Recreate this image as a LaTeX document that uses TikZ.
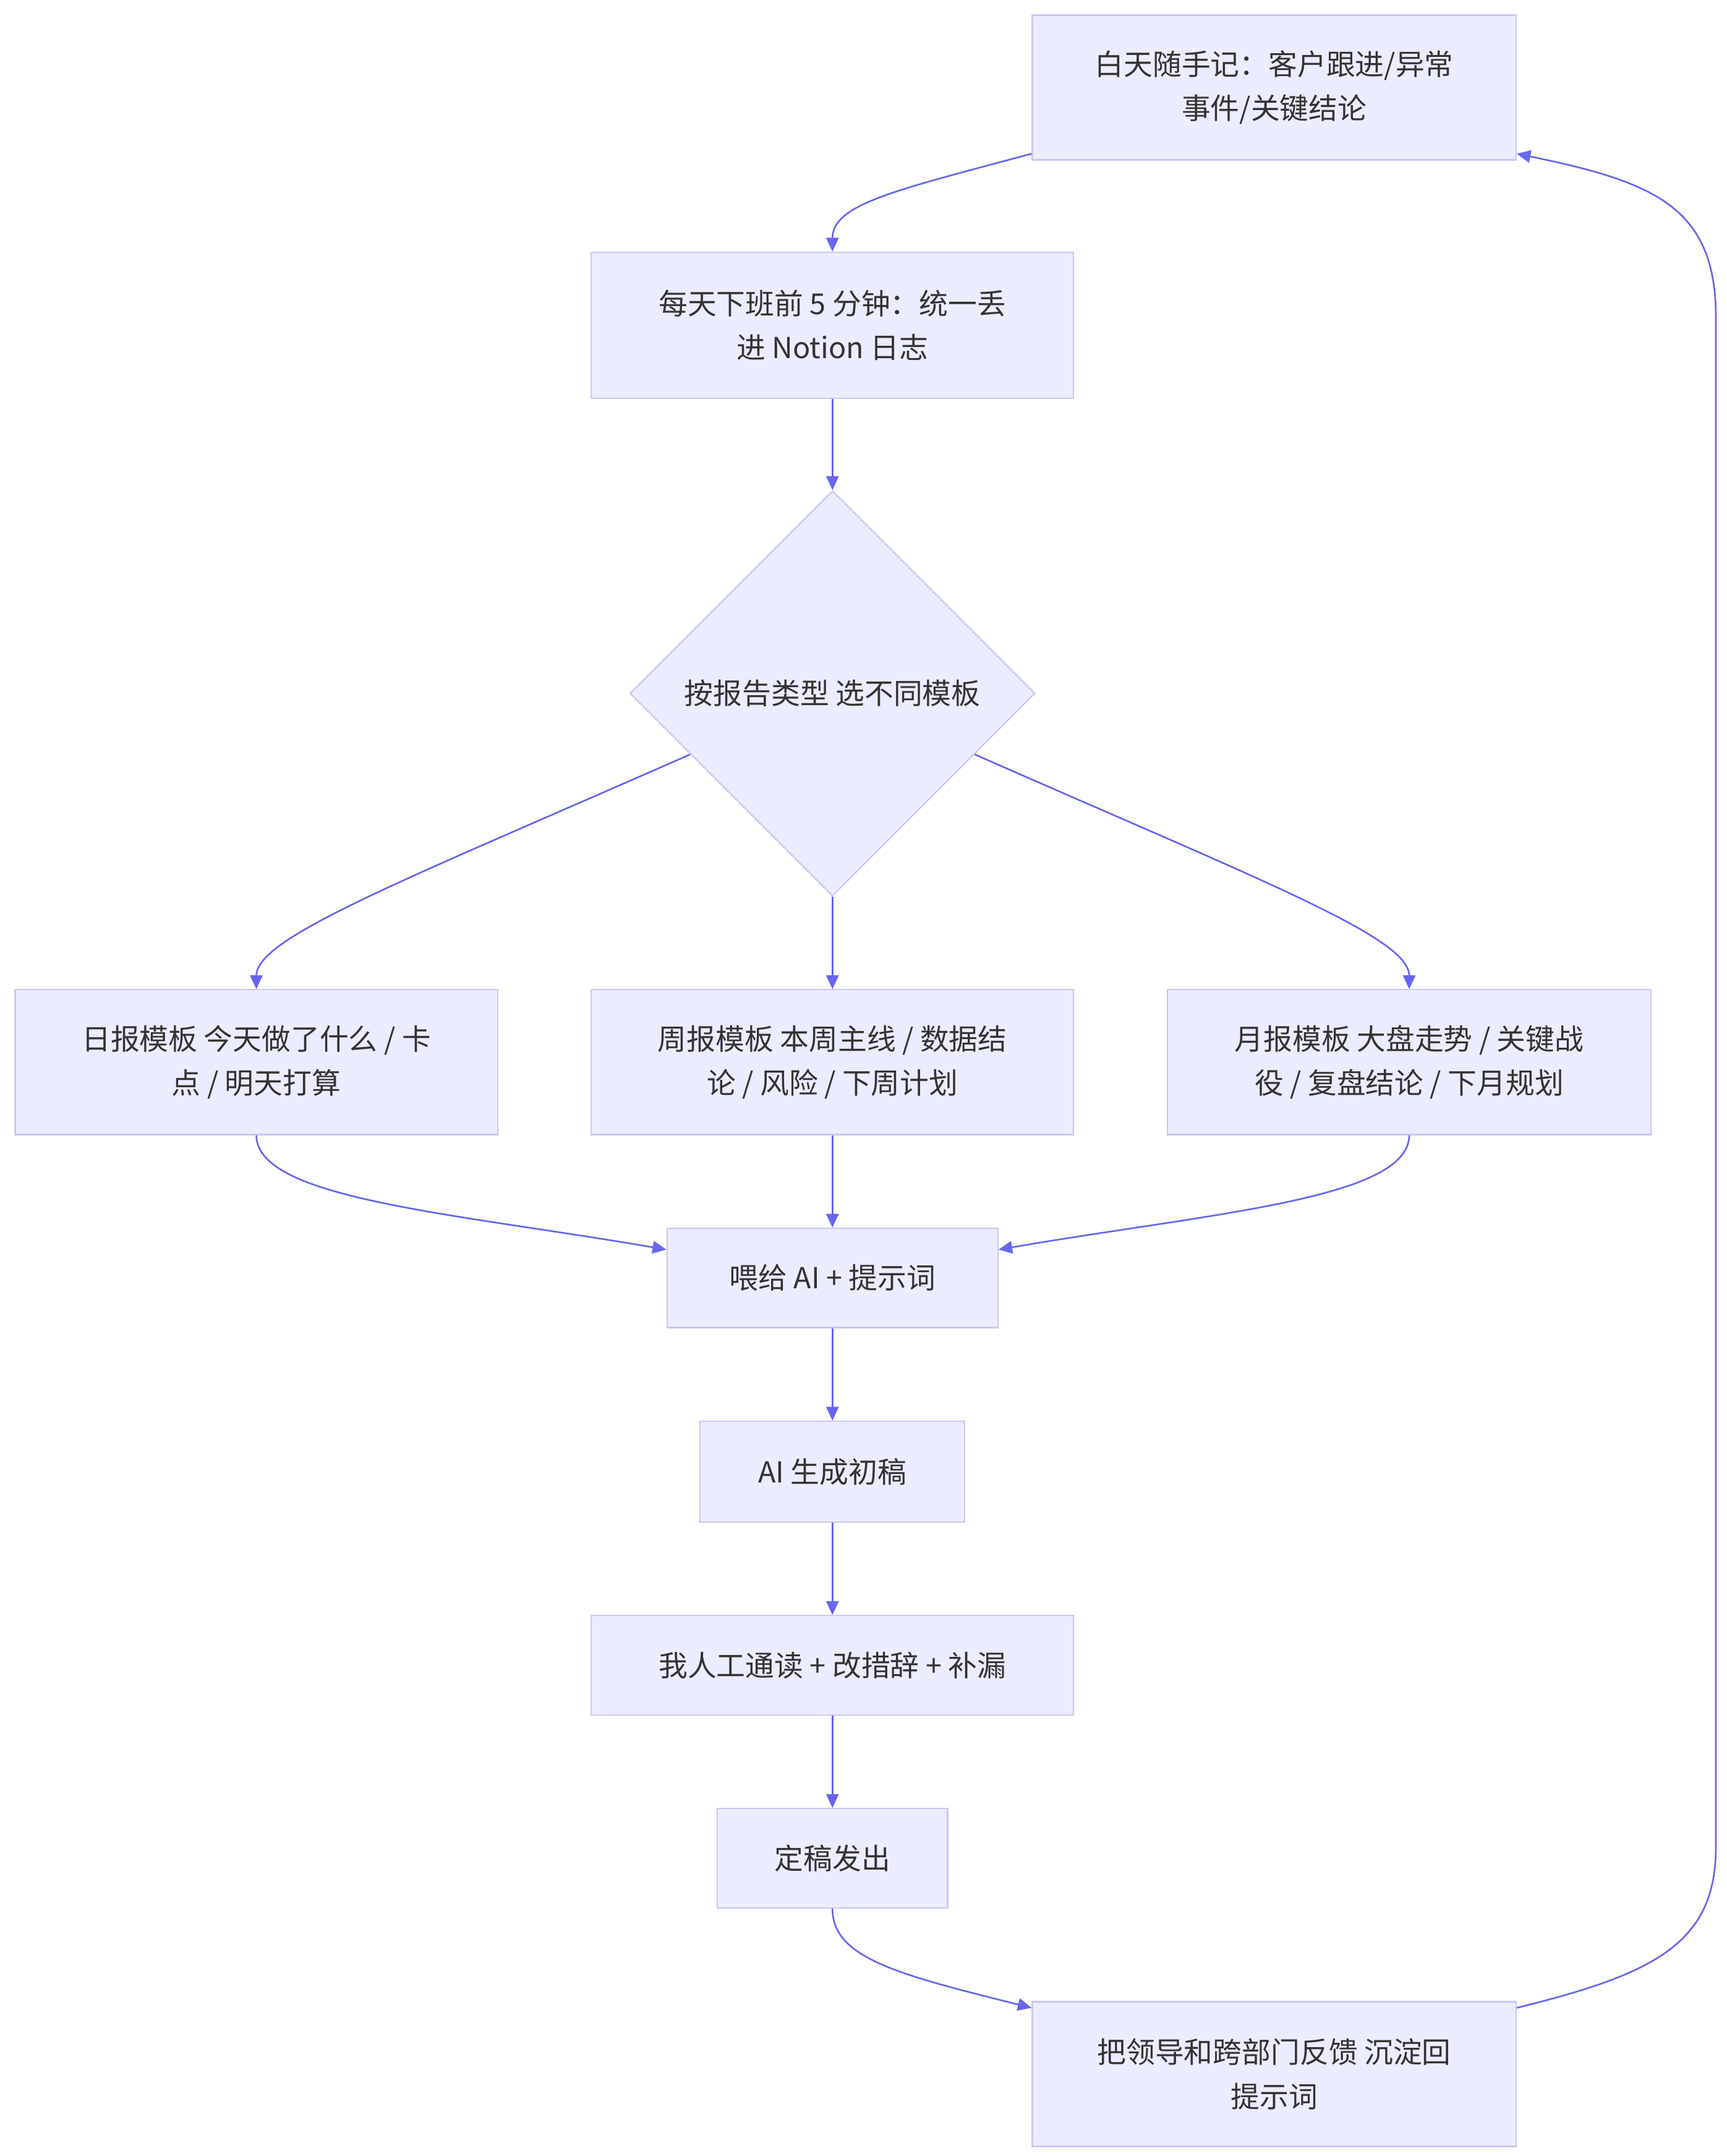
\documentclass[tikz,border=0pt]{standalone}
\usepackage{fontspec}
\setmainfont{Noto Sans CJK SC}
\usetikzlibrary{shapes.geometric,arrows.meta,calc}
\definecolor{nodefill}{HTML}{ECECFF}
\definecolor{nodeline}{HTML}{C8C8F4}
\definecolor{edgecol}{HTML}{6666EE}
\definecolor{txt}{HTML}{333333}
\begin{document}
\begin{tikzpicture}[x=1pt,y=-1pt,
  box/.style={draw=nodeline,fill=nodefill,line width=1pt,inner sep=0pt,align=center,text=txt,font=\fontsize{21}{32}\selectfont},
  dia/.style={box,shape=diamond,aspect=1,minimum width=294pt,minimum height=294pt},
  flow/.style={draw=edgecol,line width=1.2pt,-{Triangle[length=10pt,width=9pt]}}]
\useasboundingbox[fill=white] (0,0) rectangle (1253,1564);

\node[box,minimum width=351pt,minimum height=105pt] (A) at (924.5,63.5) {白天随手记：客户跟进/异常\\事件/关键结论};
\node[box,minimum width=350pt,minimum height=106pt] (B) at (604,236) {每天下班前 5 分钟：统一丢\\进 Notion 日志};
\node[dia] (C) at (604,503) {按报告类型 选不同模板};
\node[box,minimum width=350pt,minimum height=105pt] (D) at (186,770.5) {日报模板 今天做了什么 / 卡\\点 / 明天打算};
\node[box,minimum width=350pt,minimum height=105pt] (E) at (604,770.5) {周报模板 本周主线 / 数据结\\论 / 风险 / 下周计划};
\node[box,minimum width=351pt,minimum height=105pt] (F) at (1022.5,770.5) {月报模板 大盘走势 / 关键战\\役 / 复盘结论 / 下月规划};
\node[box,minimum width=240pt,minimum height=72pt] (G) at (604,927) {喂给 AI + 提示词};
\node[box,minimum width=192pt,minimum height=73pt] (H) at (604,1067.5) {AI 生成初稿};
\node[box,minimum width=350pt,minimum height=72pt] (I) at (604,1208) {我人工通读 + 改措辞 + 补漏};
\node[box,minimum width=167pt,minimum height=72pt] (J) at (604,1348) {定稿发出};
\node[box,minimum width=351pt,minimum height=105pt] (K) at (924.5,1504.5) {把领导和跨部门反馈 沉淀回\\提示词};

\draw[flow] ($(A.south west)+(0,-5)$) .. controls (650,138) and (604,148) .. (B.north);
\draw[flow] (B.south) -- (C.north);
\draw[flow] ($(C.west)!0.3!(C.south)$) .. controls (290,640) and (186,680) .. (D.north);
\draw[flow] (C.south) -- (E.north);
\draw[flow] ($(C.east)!0.3!(C.south)$) .. controls (918,640) and (1022.5,680) .. (F.north);
\draw[flow] (D.south) .. controls (186,870) and (330,880) .. ($(G.north west)+(0,16)$);
\draw[flow] (E.south) -- (G.north);
\draw[flow] (F.south) .. controls (1022.5,870) and (878,880) .. ($(G.north east)+(0,16)$);
\draw[flow] (G.south) -- (H.north);
\draw[flow] (H.south) -- (I.north);
\draw[flow] (I.south) -- (J.north);
\draw[flow] (J.south) .. controls (604,1420) and (650,1432) .. ($(K.north west)+(0,5)$);
\draw[flow] ($(K.north east)+(0,5)$) .. controls (1200,1432) and (1245,1410) .. (1245,1340) -- (1245,230) .. controls (1245,150) and (1200,132) .. ($(A.south east)+(0,-5)$);
\end{tikzpicture}
\end{document}
